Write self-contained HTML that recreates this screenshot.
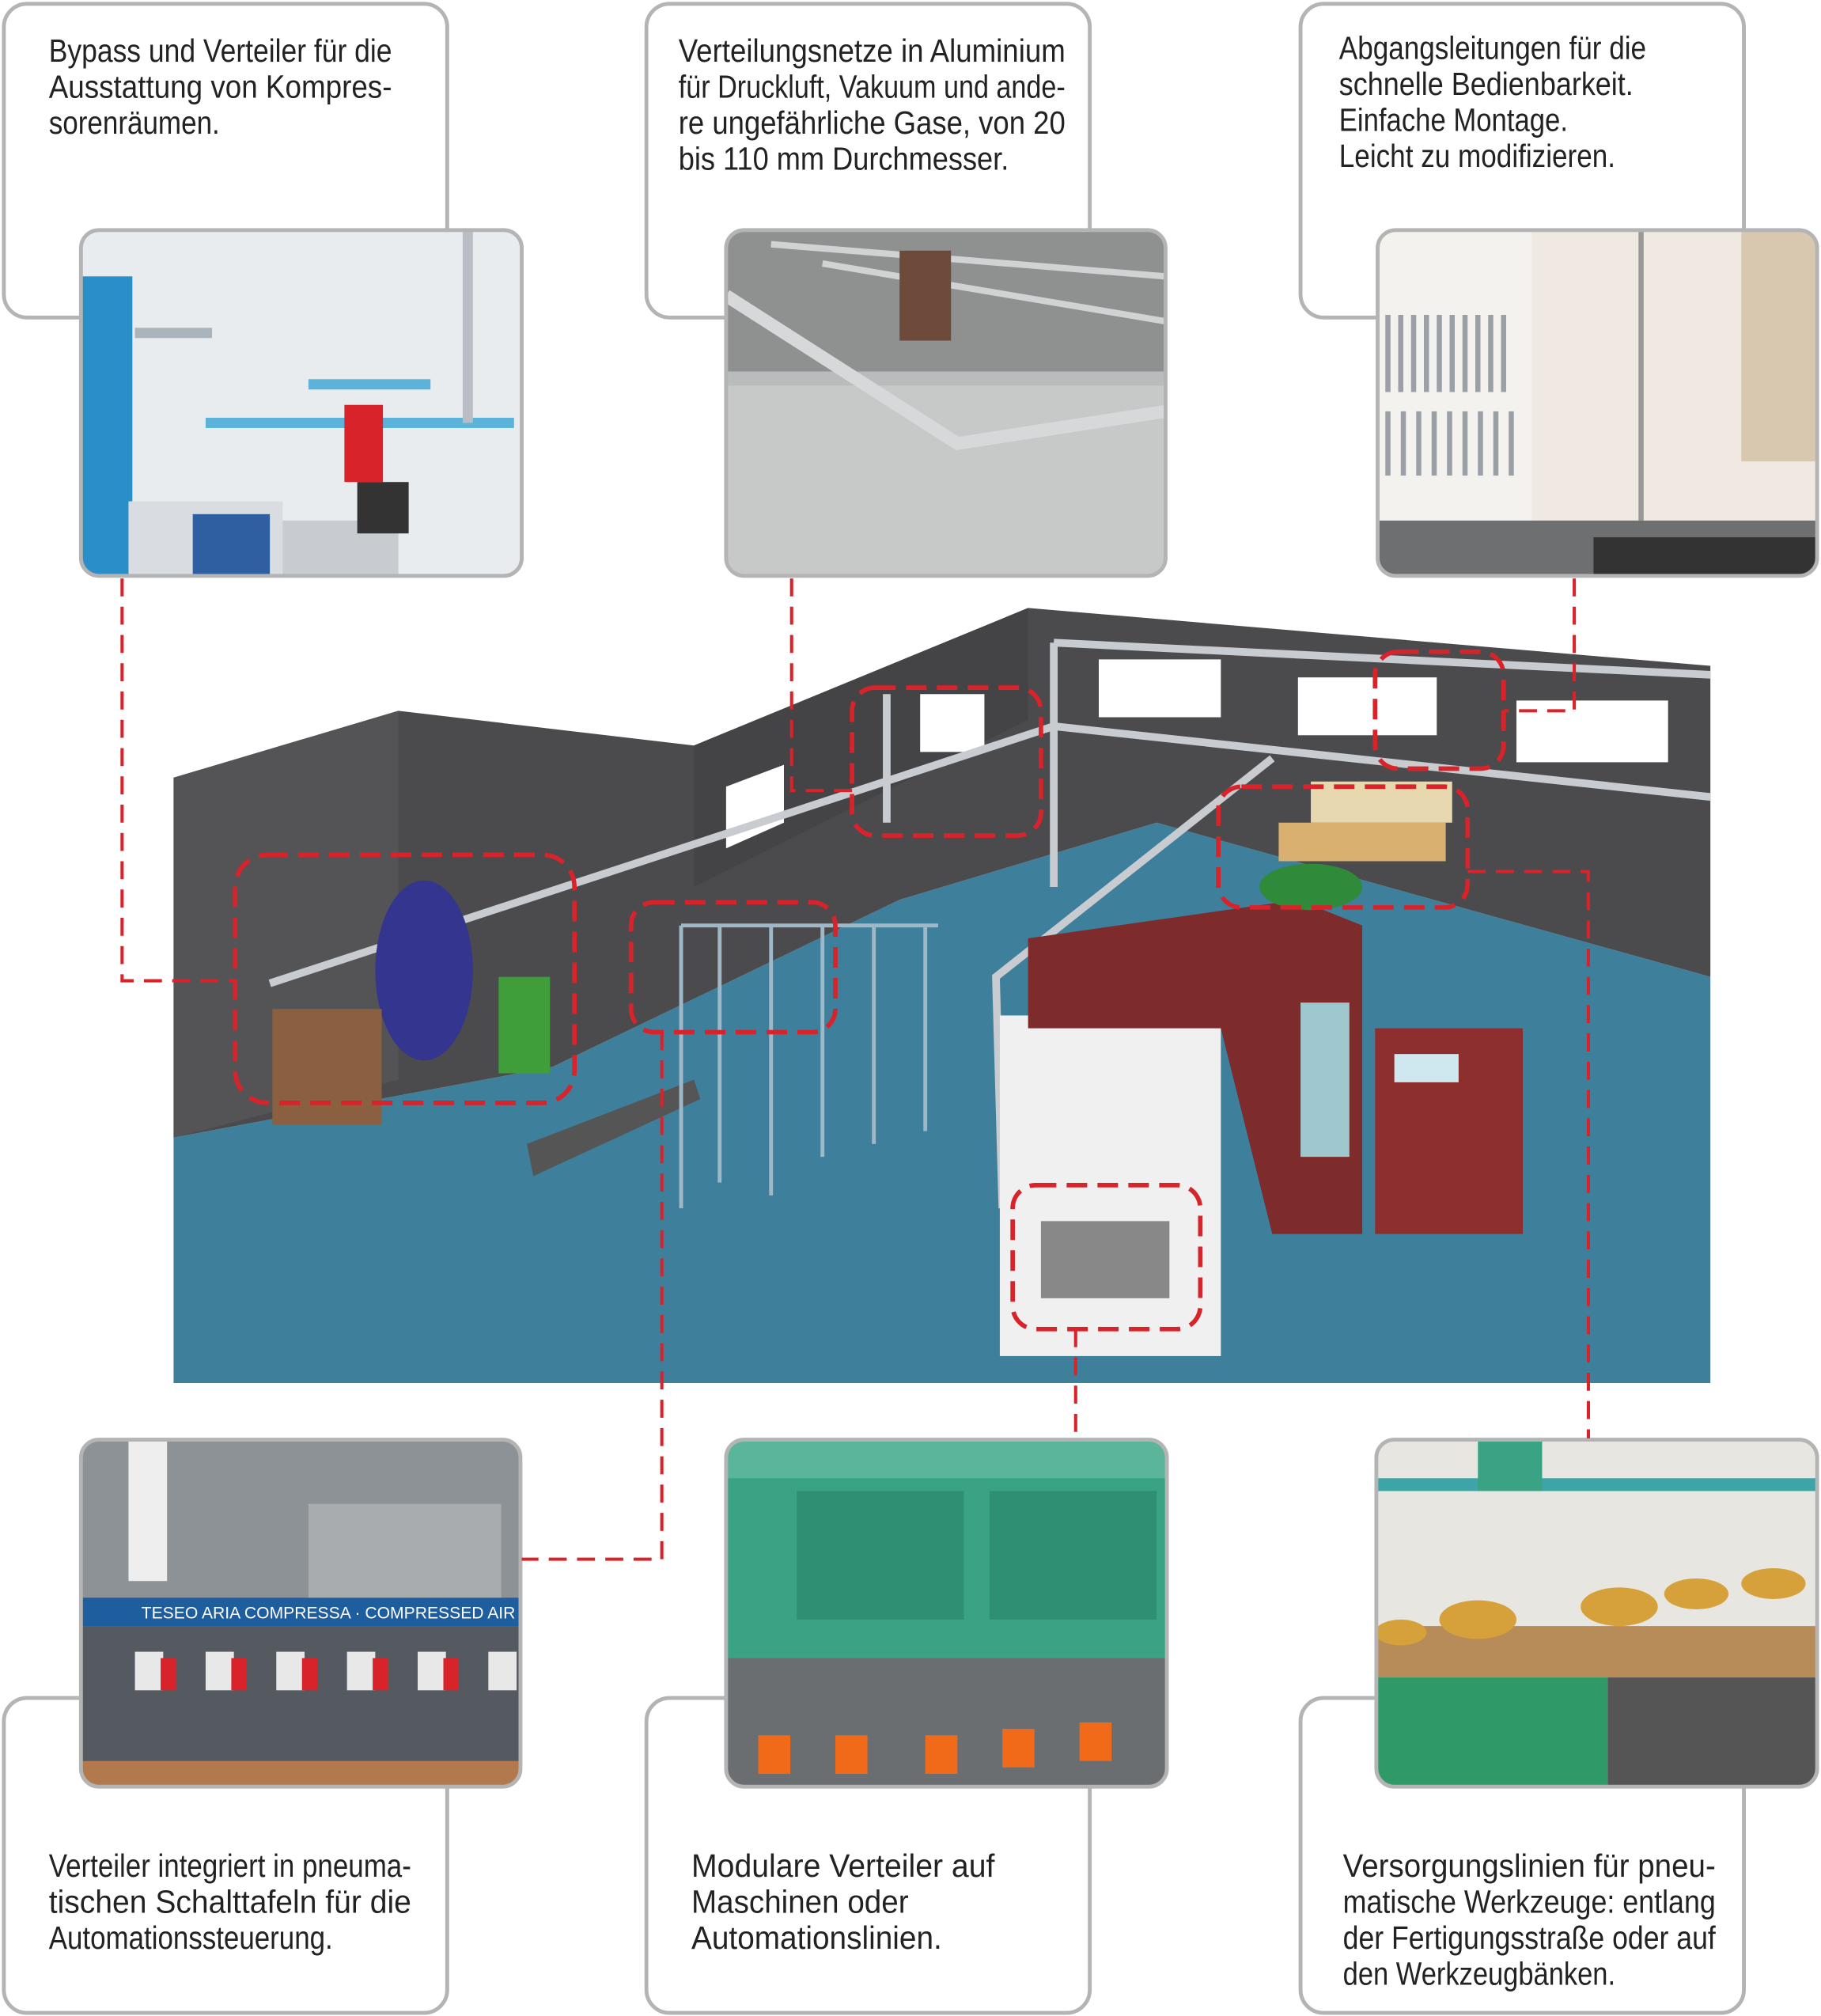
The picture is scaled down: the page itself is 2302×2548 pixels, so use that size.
<!DOCTYPE html>
<html><head><meta charset="utf-8"><style>
html,body{margin:0;padding:0;background:#fff;}
svg{display:block}
text{font-family:"Liberation Sans Narrow","Liberation Sans",sans-serif;font-size:25px;fill:#222;}
</style></head><body>
<svg width="2302" height="2548" viewBox="0 0 1417 1568.4" preserveAspectRatio="none" xmlns="http://www.w3.org/2000/svg">
<rect width="1417" height="1569" fill="#fff"/>
<g fill="#fff" stroke="#b4b4b4" stroke-width="3">
<rect x="3" y="3" width="345" height="244" rx="18"/>
<rect x="503" y="3" width="345" height="244" rx="18"/>
<rect x="1012" y="3" width="345" height="244" rx="18"/>
<rect x="3" y="1321" width="345" height="245" rx="18"/>
<rect x="503" y="1321" width="345" height="245" rx="18"/>
<rect x="1012" y="1321" width="345" height="245" rx="18"/>
</g>
<g>
<text x="38" y="48" textLength="267" lengthAdjust="spacingAndGlyphs">Bypass und Verteiler für die</text>
<text x="38" y="76" textLength="267" lengthAdjust="spacingAndGlyphs">Ausstattung von Kompres-</text>
<text x="38" y="104" textLength="133" lengthAdjust="spacingAndGlyphs">sorenräumen.</text>
<text x="528" y="48" textLength="301" lengthAdjust="spacingAndGlyphs">Verteilungsnetze in Aluminium</text>
<text x="528" y="76" textLength="301" lengthAdjust="spacingAndGlyphs">für Druckluft, Vakuum und ande-</text>
<text x="528" y="104" textLength="301" lengthAdjust="spacingAndGlyphs">re ungefährliche Gase, von 20</text>
<text x="528" y="132" textLength="257" lengthAdjust="spacingAndGlyphs">bis 110 mm Durchmesser.</text>
<text x="1042" y="46" textLength="239" lengthAdjust="spacingAndGlyphs">Abgangsleitungen für die</text>
<text x="1042" y="74" textLength="229" lengthAdjust="spacingAndGlyphs">schnelle  Bedienbarkeit.</text>
<text x="1042" y="102" textLength="178" lengthAdjust="spacingAndGlyphs">Einfache Montage.</text>
<text x="1042" y="130" textLength="215" lengthAdjust="spacingAndGlyphs">Leicht zu modifizieren.</text>
<text x="38" y="1460" textLength="282" lengthAdjust="spacingAndGlyphs">Verteiler integriert in pneuma-</text>
<text x="38" y="1488" textLength="282" lengthAdjust="spacingAndGlyphs">tischen Schalttafeln für die</text>
<text x="38" y="1516" textLength="221" lengthAdjust="spacingAndGlyphs">Automationssteuerung.</text>
<text x="538" y="1460" textLength="236" lengthAdjust="spacingAndGlyphs">Modulare Verteiler auf</text>
<text x="538" y="1488" textLength="169" lengthAdjust="spacingAndGlyphs">Maschinen oder</text>
<text x="538" y="1516" textLength="195" lengthAdjust="spacingAndGlyphs">Automationslinien.</text>
<text x="1045" y="1460" textLength="290" lengthAdjust="spacingAndGlyphs">Versorgungslinien für pneu-</text>
<text x="1045" y="1488" textLength="290" lengthAdjust="spacingAndGlyphs">matische Werkzeuge: entlang</text>
<text x="1045" y="1516" textLength="290" lengthAdjust="spacingAndGlyphs">der Fertigungsstraße oder auf</text>
<text x="1045" y="1544" textLength="212" lengthAdjust="spacingAndGlyphs">den Werkzeugbänken.</text>
</g>
<defs>
<clipPath id="p1"><rect x="63" y="179" width="343" height="269" rx="14"/></clipPath>
<clipPath id="p2"><rect x="565" y="179" width="342" height="269" rx="14"/></clipPath>
<clipPath id="p3"><rect x="1072" y="179" width="342" height="269" rx="14"/></clipPath>
<clipPath id="p4"><rect x="63" y="1120" width="342" height="270" rx="14"/></clipPath>
<clipPath id="p5"><rect x="565" y="1120" width="343" height="270" rx="14"/></clipPath>
<clipPath id="p6"><rect x="1071" y="1120" width="343" height="270" rx="14"/></clipPath>
<clipPath id="sc"><rect x="135" y="473" width="1196" height="603"/></clipPath>
</defs>
<g clip-path="url(#p1)">
<rect x="63" y="179" width="343" height="269" fill="#e9ecef"/>
<rect x="63" y="215" width="40" height="233" fill="#2a8fc8"/>
<rect x="105" y="255" width="60" height="8" fill="#a9b4bc"/>
<rect x="160" y="325" width="240" height="8" fill="#5cb3d9"/>
<rect x="240" y="295" width="95" height="8" fill="#5cb3d9"/>
<rect x="268" y="315" width="30" height="60" fill="#d8232a"/>
<rect x="100" y="390" width="120" height="58" fill="#d9dde2"/>
<rect x="150" y="400" width="60" height="48" fill="#2f5fa0"/>
<rect x="220" y="405" width="90" height="43" fill="#c8ccd0"/>
<rect x="278" y="375" width="40" height="40" fill="#333"/>
<rect x="360" y="179" width="8" height="150" fill="#b8bec4"/>
</g>
<g clip-path="url(#p2)">
<rect x="565" y="179" width="342" height="269" fill="#b9bcbd"/>
<rect x="565" y="179" width="342" height="110" fill="#8e9190"/>
<rect x="565" y="300" width="342" height="148" fill="#c7c9c8"/>
<path d="M565 230 L745 345 L907 320" stroke="#d6d8da" stroke-width="10" fill="none"/>
<path d="M600 190 L907 215 M640 205 L907 250" stroke="#d0d2d4" stroke-width="5" fill="none"/>
<rect x="700" y="195" width="40" height="70" fill="#6e4a3a"/>
</g>
<g clip-path="url(#p3)">
<rect x="1072" y="179" width="342" height="269" fill="#efe9e2"/>
<rect x="1072" y="179" width="120" height="230" fill="#f4f2ee"/>
<g stroke="#9aa0a6" stroke-width="4"><path d="M1080 245v60M1090 245v60M1100 245v60M1110 245v60M1120 245v60M1130 245v60M1140 245v60M1150 245v60M1160 245v60M1170 245v60"/><path d="M1080 320v50M1092 320v50M1104 320v50M1116 320v50M1128 320v50M1140 320v50M1152 320v50M1164 320v50M1176 320v50"/></g>
<rect x="1275" y="179" width="4" height="240" fill="#999"/>
<rect x="1355" y="179" width="59" height="180" fill="#d8c8b0"/>
<rect x="1072" y="405" width="342" height="43" fill="#6d6f70"/>
<rect x="1240" y="418" width="174" height="30" fill="#333"/>
</g>
<g clip-path="url(#p4)">
<rect x="63" y="1120" width="342" height="270" fill="#8d9297"/>
<rect x="100" y="1120" width="30" height="110" fill="#eee"/>
<rect x="240" y="1170" width="150" height="75" fill="#a8acae"/>
<rect x="63" y="1243" width="342" height="22" fill="#1f5e9e"/>
<text x="110" y="1259" style="font-size:13px;fill:#fff">TESEO  ARIA COMPRESSA · COMPRESSED AIR</text>
<rect x="63" y="1265" width="342" height="125" fill="#545a60"/>
<g fill="#e8e8e8"><rect x="105" y="1285" width="22" height="30"/><rect x="160" y="1285" width="22" height="30"/><rect x="215" y="1285" width="22" height="30"/><rect x="270" y="1285" width="22" height="30"/><rect x="325" y="1285" width="22" height="30"/><rect x="380" y="1285" width="22" height="30"/></g>
<g fill="#d8232a"><rect x="125" y="1290" width="12" height="25"/><rect x="180" y="1290" width="12" height="25"/><rect x="235" y="1290" width="12" height="25"/><rect x="290" y="1290" width="12" height="25"/><rect x="345" y="1290" width="12" height="25"/></g>
<rect x="63" y="1370" width="342" height="20" fill="#b27a4c"/>
</g>
<g clip-path="url(#p5)">
<rect x="565" y="1120" width="343" height="270" fill="#3aa384"/>
<rect x="565" y="1120" width="343" height="30" fill="#5ab59b"/>
<rect x="620" y="1160" width="130" height="100" fill="#2e8f72"/>
<rect x="770" y="1160" width="130" height="100" fill="#2e8f72"/>
<rect x="565" y="1290" width="343" height="100" fill="#6a6e70"/>
<g fill="#f06a1a"><rect x="590" y="1350" width="25" height="30"/><rect x="650" y="1350" width="25" height="30"/><rect x="720" y="1350" width="25" height="30"/><rect x="780" y="1345" width="25" height="30"/><rect x="840" y="1340" width="25" height="30"/></g>
</g>
<g clip-path="url(#p6)">
<rect x="1071" y="1120" width="343" height="270" fill="#e8e6e0"/>
<rect x="1071" y="1150" width="343" height="10" fill="#3da4a8"/>
<rect x="1150" y="1120" width="50" height="40" fill="#3aa384"/>
<rect x="1071" y="1265" width="343" height="40" fill="#b88c58"/>
<g fill="#d6a03a"><ellipse cx="1150" cy="1260" rx="30" ry="15"/><ellipse cx="1260" cy="1250" rx="30" ry="15"/><ellipse cx="1320" cy="1240" rx="25" ry="12"/><ellipse cx="1380" cy="1232" rx="25" ry="12"/><ellipse cx="1090" cy="1270" rx="20" ry="10"/></g>
<rect x="1071" y="1305" width="180" height="85" fill="#2f9a68"/>
<rect x="1251" y="1305" width="163" height="85" fill="#555"/>
</g>
<g fill="none" stroke="#b4b4b4" stroke-width="3">
<rect x="63" y="179" width="343" height="269" rx="14"/>
<rect x="565" y="179" width="342" height="269" rx="14"/>
<rect x="1072" y="179" width="342" height="269" rx="14"/>
<rect x="63" y="1120" width="342" height="270" rx="14"/>
<rect x="565" y="1120" width="343" height="270" rx="14"/>
<rect x="1071" y="1120" width="343" height="270" rx="14"/>
</g>

<g clip-path="url(#sc)">
<polygon points="135,885 430,830 700,700 900,640 1331,760 1331,1076 135,1076" fill="#3e7f9b"/>
<polygon points="135,605 310,553 540,580 800,473 1331,518 1331,760 900,640 700,700 430,830 135,885" fill="#4b4b4e"/>
<polygon points="135,605 310,553 310,840 135,885" fill="#545457"/>
<polygon points="540,580 800,473 800,560 540,690" fill="#444447"/>
<g fill="#fff"><polygon points="565,612 610,595 610,640 565,660"/><rect x="716" y="540" width="50" height="45"/><rect x="855" y="513" width="95" height="45"/><rect x="1010" y="527" width="108" height="45"/><rect x="1180" y="545" width="118" height="48"/></g>
<g stroke="#c8ccd0" stroke-width="6" fill="none">
<path d="M210 765 L820 565 L1331 620"/>
<path d="M820 500 L1331 525"/>
<path d="M690 540 L690 640"/>
<path d="M820 500 L820 690"/>
<path d="M780 940 L775 760 L990 590"/>
</g>
<polygon points="410,890 540,840 545,855 415,915" fill="#555"/>
<g stroke="#9fb8c8" stroke-width="3" fill="none"><path d="M530 720v220M560 720v200M600 720v210M640 720v180M680 720v170M720 720v160M530 720h200"/></g>
<ellipse cx="330" cy="755" rx="38" ry="70" fill="#33358f"/>
<rect x="212" y="785" width="85" height="90" fill="#8a6040"/>
<rect x="388" y="760" width="40" height="75" fill="#3f9e3a"/>
<rect x="778" y="790" width="172" height="265" fill="#f0f0f0"/>
<polygon points="800,730 1010,700 1060,720 1060,960 990,960 950,800 800,800" fill="#7d2b2b"/>
<rect x="1012" y="780" width="38" height="120" fill="#9fc7d0"/>
<rect x="1070" y="800" width="115" height="160" fill="#8e2f2f"/>
<rect x="1085" y="820" width="50" height="22" fill="#cfe8f0"/>
<rect x="995" y="640" width="130" height="30" fill="#d9b070"/>
<rect x="1020" y="608" width="110" height="32" fill="#e8d8b0"/>
<ellipse cx="1020" cy="690" rx="40" ry="18" fill="#2f8a3a"/>
<rect x="810" y="950" width="100" height="60" fill="#888"/>
</g>

<g fill="none" stroke="#d8232a" stroke-width="3.5" stroke-dasharray="16 8">
<rect x="183" y="665" width="264" height="193" rx="25"/>
<rect x="491" y="702" width="159" height="101" rx="18"/>
<rect x="663" y="535" width="147" height="115" rx="18"/>
<rect x="1070" y="507" width="100" height="91" rx="18"/>
<rect x="948" y="612" width="194" height="94" rx="18"/>
<rect x="788" y="922" width="146" height="112" rx="18"/>
</g>
<g fill="none" stroke="#d8232a" stroke-width="2.5" stroke-dasharray="14 8">
<path d="M95 450 V763 H183"/>
<path d="M616 450 V615 H663"/>
<path d="M1225 450 V553 H1170"/>
<path d="M1142 678 H1236 V1119"/>
<path d="M837 1034 V1119"/>
<path d="M515 803 V1213 H406"/>
</g>
</svg>
</body></html>
